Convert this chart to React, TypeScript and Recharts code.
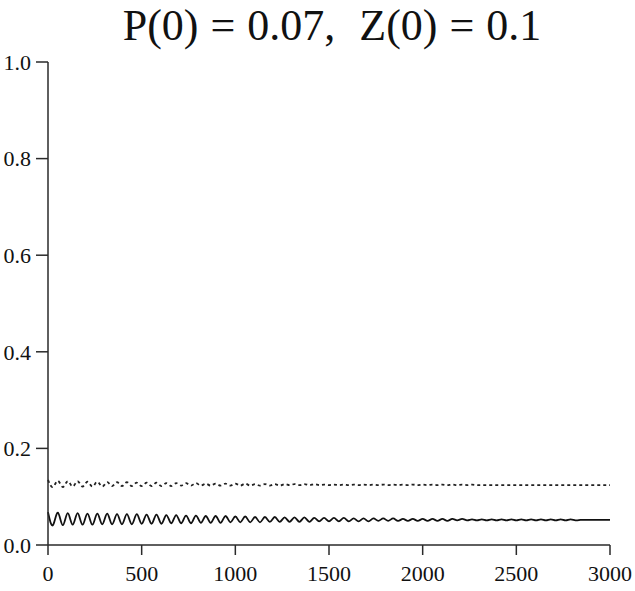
// @ts-nocheck
import React from 'react';
import { LineChart, Line, XAxis, YAxis } from 'recharts';

const TITLE = 'P(0) = 0.07,  Z(0) = 0.1';

// half-period sampling over 0..3000
const T_END = 3000;

// solid series, peaks and troughs
const P_VALUES = [
  0.068, 0.041, 0.067, 0.041, 0.066, 0.042, 0.066, 0.042, 0.065, 0.042,
  0.065, 0.043, 0.065, 0.043, 0.064, 0.043, 0.064, 0.043, 0.064, 0.044,
  0.063, 0.044, 0.063, 0.044, 0.062, 0.045, 0.062, 0.045, 0.061, 0.045,
  0.061, 0.046, 0.060, 0.046, 0.060, 0.046, 0.060, 0.047, 0.059, 0.047,
  0.059, 0.047, 0.058, 0.047, 0.058, 0.048, 0.058, 0.048, 0.057, 0.048,
  0.057, 0.048, 0.057, 0.048, 0.056, 0.049, 0.056, 0.049, 0.056, 0.049,
  0.056, 0.049, 0.055, 0.049, 0.055, 0.049, 0.055, 0.050, 0.055, 0.050,
  0.055, 0.050, 0.054, 0.050, 0.054, 0.050, 0.054, 0.050, 0.054, 0.050,
  0.054, 0.050, 0.054, 0.051, 0.054, 0.051, 0.053, 0.051, 0.053, 0.051,
  0.053, 0.051, 0.053, 0.051, 0.053, 0.051, 0.053, 0.051, 0.053, 0.051,
  0.053, 0.051, 0.053, 0.051, 0.053, 0.051, 0.053, 0.051, 0.052, 0.052,
  0.052, 0.052, 0.052, 0.052, 0.052,
];

// dashed series
const Z_VALUES = [
  0.135, 0.120, 0.133, 0.120, 0.132, 0.121, 0.132, 0.121, 0.131, 0.121,
  0.131, 0.121, 0.130, 0.122, 0.130, 0.122, 0.130, 0.122, 0.129, 0.122,
  0.129, 0.122, 0.129, 0.122, 0.128, 0.122, 0.128, 0.123, 0.128, 0.123,
  0.128, 0.123, 0.127, 0.123, 0.127, 0.123, 0.127, 0.123, 0.127, 0.123,
  0.127, 0.123, 0.126, 0.123, 0.126, 0.123, 0.126, 0.123, 0.126, 0.124,
  0.126, 0.124, 0.126, 0.124, 0.126, 0.124, 0.125, 0.124, 0.125, 0.124,
  0.125, 0.124, 0.125, 0.124, 0.125, 0.124, 0.125, 0.124, 0.125, 0.124,
  0.125, 0.124, 0.125, 0.124, 0.125, 0.124, 0.125, 0.124, 0.125, 0.124,
  0.125, 0.124, 0.125, 0.124, 0.125, 0.124, 0.125, 0.124, 0.124, 0.124,
  0.124, 0.124, 0.124, 0.124, 0.124, 0.124, 0.124, 0.124, 0.124, 0.124,
  0.124, 0.124, 0.124, 0.124, 0.124, 0.124, 0.124, 0.124, 0.124, 0.124,
  0.124, 0.124, 0.124, 0.124, 0.124,
];

const X_TICKS = [0, 500, 1000, 1500, 2000, 2500, 3000];
const Y_TICKS = [0, 0.2, 0.4, 0.6, 0.8, 1.0];

const FONT = '"Liberation Serif", "Times New Roman", serif';
const INK = '#2a2a2a';

const data = P_VALUES.map((p, i) => ({
  t: (i * T_END) / (P_VALUES.length - 1),
  p,
  z: Z_VALUES[i],
}));

export default function App() {
  return (
    <div style={{ position: 'absolute', left: 0, top: 0, width: 635, height: 591, background: '#fff' }}>
      <div
        style={{
          position: 'absolute',
          left: 0,
          top: 0,
          width: 635,
          boxSizing: 'border-box',
          paddingLeft: 29,
          textAlign: 'center',
          fontFamily: FONT,
          fontSize: 44,
          wordSpacing: 1,
          color: '#111',
          whiteSpace: 'pre',
        }}
      >
        {TITLE}
      </div>
      <LineChart
        width={635}
        height={591}
        data={data}
        margin={{ top: 62, right: 25, left: 0, bottom: 6 }}
      >
        <XAxis
          dataKey="t"
          type="number"
          domain={[0, 3000]}
          ticks={X_TICKS}
          interval={0}
          height={40}
          tickSize={10}
          tickMargin={10}
          axisLine={{ stroke: INK, strokeWidth: 1.5 }}
          tickLine={{ stroke: INK, strokeWidth: 1.5 }}
          tick={{ fontFamily: FONT, fontSize: 22, fill: '#111' }}
        />
        <YAxis
          type="number"
          domain={[0, 1]}
          ticks={Y_TICKS}
          interval={0}
          width={48}
          tickSize={12}
          tickMargin={5}
          tickFormatter={(v) => v.toFixed(1)}
          axisLine={{ stroke: INK, strokeWidth: 1.5 }}
          tickLine={{ stroke: INK, strokeWidth: 1.5 }}
          tick={{ fontFamily: FONT, fontSize: 22, fill: '#111' }}
        />
        <Line
          dataKey="z"
          type="natural"
          stroke="#222"
          strokeWidth={1.8}
          strokeDasharray="3 3"
          dot={false}
          isAnimationActive={false}
        />
        <Line
          dataKey="p"
          type="natural"
          stroke="#111"
          strokeWidth={1.8}
          dot={false}
          isAnimationActive={false}
        />
      </LineChart>
    </div>
  );
}
